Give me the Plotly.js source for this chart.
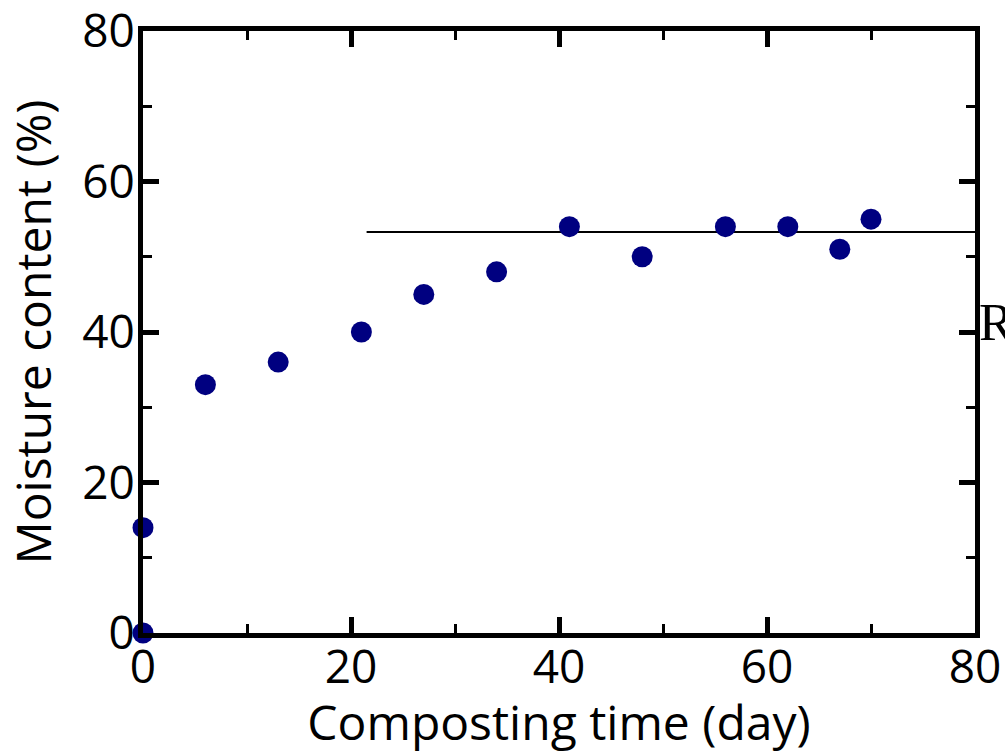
<!DOCTYPE html>
<html>
<head>
<meta charset="utf-8">
<script src="https://cdn.plot.ly/plotly-3.0.1.min.js"></script>
<style>html,body{margin:0;padding:0;background:#fff;}#chart{width:1005px;height:754px;}</style>
</head>
<body>
<div id="chart"></div>
<script>
// Data
const compostingDays = [0, 0, 6, 13, 21, 27, 34, 41, 48, 56, 62, 67, 70];
const moistureContent = [0, 14, 33, 36, 40, 45, 48, 54, 50, 54, 54, 51, 55];
const plateauDays = [21.5, 80];
const plateauMoisture = [53.3, 53.3];
const tickValues = [0, 20, 40, 60, 80];
const tickLabels = ['0', '20', '40', '60', '80'];

const fontFamily = '"Open Sans", "Noto Sans", sans-serif';

const traces = [
  {
    x: plateauDays, y: plateauMoisture, type: 'scatter', mode: 'lines',
    line: {color: '#000000', width: 2}, hoverinfo: 'skip', showlegend: false
  },
  {
    x: compostingDays, y: moistureContent, type: 'scatter', mode: 'markers',
    marker: {color: '#000080', size: 21}, cliponaxis: false, showlegend: false
  }
];

const axisCommon = {
  range: [0, 80], tickvals: tickValues, ticktext: tickLabels,
  showgrid: false, zeroline: false, showline: true, linewidth: 5, linecolor: '#000',
  mirror: 'ticks', ticks: 'inside', ticklen: 16, tickwidth: 5, tickcolor: '#000',
  minor: {dtick: 10, tick0: 0, ticks: 'inside', ticklen: 9, tickwidth: 3, tickcolor: '#000'},
  tickfont: {family: fontFamily, size: 46, color: '#000'},
  ticklabeloverflow: 'allow'
};

const layout = {
  width: 1005, height: 754,
  margin: {l: 143, r: 30, t: 31, b: 121},
  paper_bgcolor: '#fff', plot_bgcolor: '#fff',
  showlegend: false,
  xaxis: Object.assign({}, axisCommon, {
    title: {text: 'Composting time (day)', font: {family: fontFamily, size: 48, color: '#000'}, standoff: 6},
    ticklabelstandoff: -10
  }),
  yaxis: Object.assign({}, axisCommon, {
    title: {text: 'Moisture content (%)', font: {family: fontFamily, size: 48, color: '#000'}, standoff: 18},
    ticklabelstandoff: -6
  }),
  annotations: [{
    xref: 'paper', yref: 'y', x: 1.002, y: 41.3, xanchor: 'left', yanchor: 'middle',
    text: 'R', showarrow: false,
    font: {family: '"Liberation Serif", "DejaVu Serif", serif', size: 52, color: '#000'}
  }]
};

Plotly.newPlot('chart', traces, layout, {displayModeBar: false, staticPlot: true});
</script>
</body>
</html>
